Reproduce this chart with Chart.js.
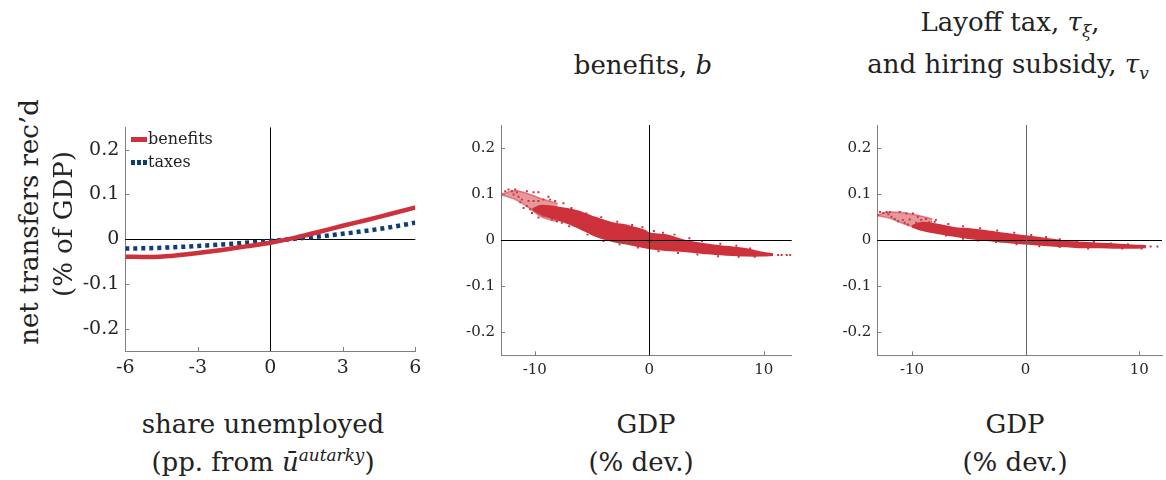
<!DOCTYPE html>
<html>
<head>
<meta charset="utf-8">
<script src="https://cdn.jsdelivr.net/npm/chart.js@4.4.0/dist/chart.umd.min.js"></script>
<style>
  body { margin: 0; width: 1166px; height: 480px; background: #fff; position: relative; overflow: hidden;
         font-family: "DejaVu Serif", "Liberation Serif", serif; color: #222; }
  canvas { position: absolute; }
  .lbl { position: absolute; transform: translate(-50%, -50%); white-space: nowrap; line-height: 1; }
  .big { font-size: 26px; }
  .ttl { font-size: 26px; }
  .rot { position: absolute; transform: translate(-50%, -50%) rotate(-90deg); white-space: nowrap; font-size: 26px; line-height: 1; }
  .leg { position: absolute; left: 131px; font-size: 16px; line-height: 1; display: flex; align-items: center; }
  .leg span.s { display: inline-block; width: 16px; height: 5px; margin-right: 1px; }
  i { font-style: italic; }
  sub, sup { font-size: 65%; line-height: 0; }
</style>
</head>
<body>
<canvas id="c1" width="360" height="290" style="left:70px;top:110px"></canvas>
<canvas id="c2" width="360" height="290" style="left:440px;top:110px"></canvas>
<canvas id="c3" width="346" height="290" style="left:820px;top:110px"></canvas>

<div class="rot" style="left:29px;top:222px">net transfers rec’d</div>
<div class="rot" style="left:63px;top:224px">(% of GDP)</div>

<div class="leg" style="top:131px"><span class="s" style="background:#cd323c"></span>benefits</div>
<div class="leg" style="top:154px"><span class="s" style="background:repeating-linear-gradient(90deg,#0c3d78 0 4px,transparent 4px 6px)"></span>taxes</div>

<div class="lbl ttl" style="left:643px;top:65px">benefits, <i>b</i></div>
<div class="lbl ttl" style="left:1010px;top:22px">Layoff tax, <i>τ<sub>ξ</sub></i>,</div>
<div class="lbl ttl" style="left:1008px;top:64px">and hiring subsidy, <i>τ<sub>v</sub></i></div>

<div class="lbl big" style="left:263px;top:424px">share unemployed</div>
<div class="lbl big" style="left:263px;top:462px">(pp. from <i>ū</i><sup><i>autarky</i></sup>)</div>
<div class="lbl big" style="left:646px;top:424px">GDP</div>
<div class="lbl big" style="left:641px;top:462px">(% dev.)</div>
<div class="lbl big" style="left:1015px;top:424px">GDP</div>
<div class="lbl big" style="left:1015px;top:462px">(% dev.)</div>

<script>
// left panel: transfers vs. unemployment gap
const unempX = [-6, -5, -4, -3, -2, -1, 0, 1, 2, 3, 4, 5, 6];
const benefitsY = [-0.039, -0.040, -0.037, -0.031, -0.024, -0.016, -0.008, 0.003, 0.016, 0.030, 0.043, 0.057, 0.071];
const taxesY = [-0.021, -0.020, -0.018, -0.015, -0.012, -0.008, -0.004, 0.001, 0.006, 0.012, 0.019, 0.027, 0.037];
const unempTicks = [-6, -3, 0, 3, 6];
const gdpTicks = [-10, 0, 10];
const shareTicks = [-0.2, -0.1, 0, 0.1, 0.2];

// middle panel (benefits, b): dense core, looser left tail, scattered draws
const bCoreX = [-10.2, -9.4, -7.6, -6.2, -4.7, -3.3, -1.8, -0.4, 0, 1.5, 3.0, 5.0, 6.75, 8.5, 9.9, 10.8];
const bCoreHi = [0.068, 0.075, 0.070, 0.063, 0.049, 0.038, 0.031, 0.021, 0.015, 0.011, 0.000, -0.009, -0.014, -0.019, -0.027, -0.030];
const bCoreLo = [0.066, 0.055, 0.041, 0.027, 0.009, -0.002, -0.009, -0.016, -0.018, -0.022, -0.024, -0.029, -0.032, -0.034, -0.034, -0.033];
const bTailX = [-12.9, -11.7, -10.5, -9.4, -8.0];
const bTailHi = [0.100, 0.108, 0.100, 0.090, 0.080];
const bTailLo = [0.098, 0.088, 0.070, 0.050, 0.040];
const bDotsX = [-12.87, -12.58, -12.29, -12.0, -11.71, -11.56, -11.85, -11.42, -11.13, -10.69, -10.11, -9.68, -10.55, -10.11,
  -9.68, -9.24, -8.81, -8.66, -8.22, -7.5, -10.98, -10.4, -10.25, -9.82, -9.68, -9.38, -9.09, -9.24, -8.81, -8.51, -8.07,
  -7.64, -9.09, -8.51, -7.93, -7.35, -10.69, -11.27,
  -6.8, -5.5, -4.2, -2.8, -1.5, -0.6, 0.4, 1.2, 2.2, 3.5, 4.6, 6.2, 7.6, 8.8,
  -7.0, -5.4, -4.0, -2.6, -1.0, 0.8, 2.5, 4.2, 6.0, 7.8, 9.2, 11.25, 11.55, 12.0, 12.3];
const bDotsY = [0.099, 0.106, 0.110, 0.106, 0.110, 0.104, 0.099, 0.094, 0.088, 0.106, 0.104, 0.104, 0.085, 0.085,
  0.085, 0.088, 0.094, 0.088, 0.085, 0.080, 0.070, 0.067, 0.059, 0.070, 0.049, 0.063, 0.059, 0.053, 0.052, 0.045, 0.041,
  0.038, 0.074, 0.070, 0.067, 0.063, 0.074, 0.082,
  0.070, 0.058, 0.050, 0.040, 0.033, 0.028, 0.020, 0.016, 0.012, 0.004, -0.002, -0.008, -0.012, -0.018,
  0.030, 0.012, -0.002, -0.009, -0.016, -0.024, -0.028, -0.031, -0.035, -0.036, -0.036, -0.032, -0.032, -0.032, -0.032];

// right panel (layoff tax and hiring subsidy)
const tCoreX = [-10.0, -9.2, -7.75, -6.3, -4.86, -3.41, -1.97, 0, 2.2, 3.64, 5.09, 6.53, 7.98, 9.43, 10.58];
const tCoreHi = [0.031, 0.038, 0.034, 0.027, 0.024, 0.020, 0.015, 0.009, 0.002, -0.003, -0.005, -0.007, -0.009, -0.011, -0.012];
const tCoreLo = [0.029, 0.022, 0.015, 0.009, 0.0035, 0.000, -0.004, -0.008, -0.012, -0.014, -0.016, -0.016, -0.017, -0.017, -0.016];
const tTailX = [-13.0, -12.0, -10.8, -9.5, -8.2];
const tTailHi = [0.055, 0.061, 0.060, 0.054, 0.046];
const tTailLo = [0.053, 0.048, 0.036, 0.026, 0.024];
const tDotsX = [-13.0, -12.81, -12.52, -12.23, -11.94, -12.08, -11.8, -11.51, -11.08, -10.49, -9.91, -11.22, -10.8, -10.2,
  -9.48, -9.19, -8.76, -8.47, -7.89, -10.35, -9.91, -9.48, -9.63, -9.05, -8.18, -10.64,
  -8.0, -6.8, -5.5, -4.0, -2.5, -1.0, 0.5, 1.8, 3.0, 4.5, 6.0, 7.5, 9.0,
  -7.0, -5.5, -4.2, -2.6, -0.8, 1.2, 3.0, 5.5, 8.5, 10.2, 11.0, 11.6];
const tDotsY = [0.054, 0.061, 0.059, 0.061, 0.061, 0.056, 0.051, 0.046, 0.061, 0.058, 0.058, 0.041, 0.044, 0.045,
  0.051, 0.044, 0.046, 0.039, 0.044, 0.034, 0.031, 0.027, 0.038, 0.034, 0.031, 0.038,
  0.040, 0.035, 0.030, 0.026, 0.021, 0.016, 0.011, 0.007, 0.002, -0.002, -0.004, -0.007, -0.009,
  0.010, 0.003, -0.001, -0.004, -0.009, -0.013, -0.015, -0.018, -0.018, -0.018, -0.014, -0.014];

const RED = '#cd323c';
const RED_LIGHT = 'rgba(205,50,60,0.5)';
const BLUE = '#0c3d78';
const INK = '#262626';
const AXIS = '#808080';
const FONT = '"DejaVu Serif", "Liberation Serif", serif';

const pts = (xs, ys) => xs.map((x, i) => ({ x: x, y: ys[i] }));

// zero reference lines and inward tick marks
const refLines = {
  id: 'refLines',
  beforeDatasetsDraw(chart, args, o) { if (!o.above) drawRefs(chart, o); },
  afterDatasetsDraw(chart, args, o) { if (o.above) drawRefs(chart, o); }
};
function drawRefs(chart, o) {
  const { ctx, chartArea: a, scales: { x, y } } = chart;
  ctx.save();
  ctx.lineWidth = 1;
  ctx.strokeStyle = AXIS;
  ctx.beginPath();
  x.ticks.forEach(t => { const px = Math.round(x.getPixelForValue(t.value)) + 0.5; ctx.moveTo(px, a.bottom); ctx.lineTo(px, a.bottom - 4); });
  y.ticks.forEach(t => { const py = Math.round(y.getPixelForValue(t.value)) + 0.5; ctx.moveTo(a.left, py); ctx.lineTo(a.left + 4, py); });
  ctx.stroke();
  const y0 = Math.round(y.getPixelForValue(0)) + 0.5;
  ctx.strokeStyle = '#000';
  ctx.beginPath(); ctx.moveTo(a.left, y0); ctx.lineTo(a.right, y0); ctx.stroke();
  const x0 = Math.round(x.getPixelForValue(0)) + 0.5;
  ctx.strokeStyle = o.vColor || '#000';
  ctx.beginPath(); ctx.moveTo(x0, a.top); ctx.lineTo(x0, a.bottom); ctx.stroke();
  ctx.restore();
}

function axes(xMin, xMax, xTicks, size, xFit, yFit) {
  const tickFont = { family: FONT, size: size };
  return {
    x: {
      type: 'linear', min: xMin, max: xMax,
      afterBuildTicks: s => { s.ticks = xTicks.map(v => ({ value: v })); },
      afterFit: s => { s.height = xFit; },
      grid: { display: false, drawTicks: false },
      border: { color: AXIS, width: 1 },
      ticks: { font: tickFont, color: INK, padding: 6, maxRotation: 0, autoSkip: false, callback: v => String(v) }
    },
    y: {
      type: 'linear', min: -0.25, max: 0.25,
      afterBuildTicks: s => { s.ticks = shareTicks.map(v => ({ value: v })); },
      afterFit: s => { s.width = yFit; },
      grid: { display: false, drawTicks: false },
      border: { color: AXIS, width: 1 },
      ticks: { font: tickFont, color: INK, padding: 6, autoSkip: false, callback: v => v === 0 ? '0' : String(v) }
    }
  };
}

function band(xs, hi, lo, color) {
  return [
    { data: pts(xs, hi), showLine: true, fill: '+1', backgroundColor: color, borderColor: color,
      borderWidth: 1.5, pointRadius: 0, tension: 0.3 },
    { data: pts(xs, lo), showLine: true, fill: false, borderColor: color,
      borderWidth: 1.5, pointRadius: 0, tension: 0.3 }
  ];
}

function cloudChart(id, tail, core, dotsX, dotsY, xMin, xMax, yFit, pad, vColor) {
  return new Chart(document.getElementById(id), {
    type: 'scatter',
    data: {
      datasets: [
        ...band(tail[0], tail[1], tail[2], RED_LIGHT),
        ...band(core[0], core[1], core[2], RED),
        { data: pts(dotsX, dotsY), backgroundColor: RED, borderWidth: 0, pointRadius: 1.4, pointStyle: 'rect' }
      ]
    },
    options: {
      responsive: false, animation: false, devicePixelRatio: 1,
      layout: { padding: pad },
      scales: axes(xMin, xMax, gdpTicks, 15, 36, yFit),
      plugins: { legend: { display: false }, tooltip: { enabled: false }, refLines: { above: true, vColor: vColor } }
    },
    plugins: [refLines]
  });
}

new Chart(document.getElementById('c1'), {
  type: 'scatter',
  data: {
    datasets: [
      { label: 'benefits', data: pts(unempX, benefitsY), showLine: true, borderColor: RED, borderWidth: 4.5,
        pointRadius: 0, cubicInterpolationMode: 'monotone', borderCapStyle: 'butt' },
      { label: 'taxes', data: pts(unempX, taxesY), showLine: true, borderColor: BLUE, borderWidth: 4.5,
        borderDash: [4, 4], pointRadius: 0, cubicInterpolationMode: 'monotone', borderCapStyle: 'butt' }
    ]
  },
  options: {
    responsive: false, animation: false, devicePixelRatio: 1,
    layout: { padding: { left: 0, right: 14.7, top: 13.3, bottom: 9 } },
    scales: axes(-6, 6, unempTicks, 19, 40, 55.3),
    plugins: { legend: { display: false }, tooltip: { enabled: false }, refLines: { above: false } }
  },
  plugins: [refLines]
});

cloudChart('c2', [bTailX, bTailHi, bTailLo], [bCoreX, bCoreHi, bCoreLo], bDotsX, bDotsY, -12.95, 12.43, 61,
  { left: 0, right: 8.3, top: 13.3, bottom: 8.7 }, '#000');
cloudChart('c3', [tTailX, tTailHi, tTailLo], [tCoreX, tCoreHi, tCoreLo], tDotsX, tDotsY, -13.05, 12, 57.3,
  { left: 0, right: 0, top: 13.3, bottom: 8.7 }, '#666');
</script>
</body>
</html>
